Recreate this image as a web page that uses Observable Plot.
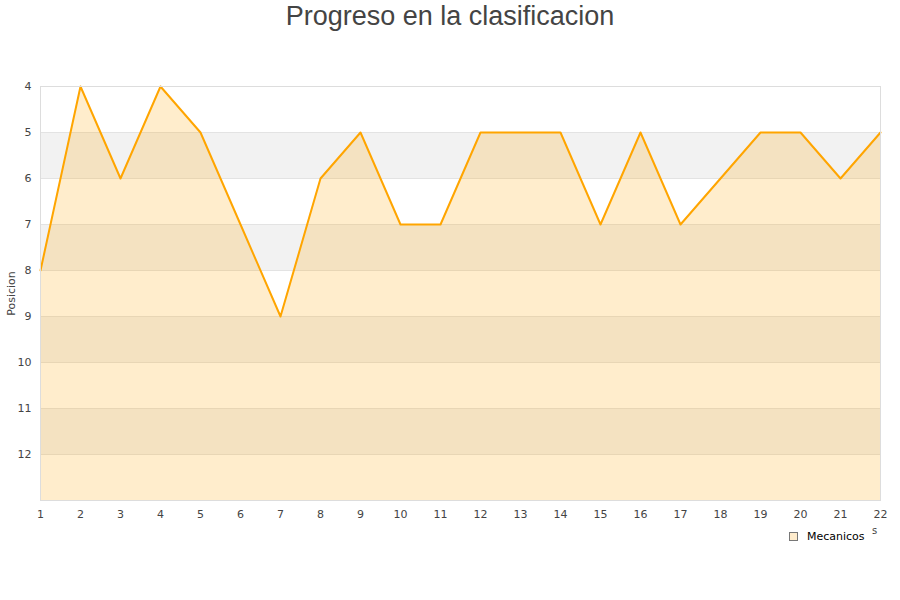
<!DOCTYPE html>
<html>
<head>
<meta charset="utf-8">
<script src="https://cdn.jsdelivr.net/npm/d3@7"></script>
<script src="https://cdn.jsdelivr.net/npm/@observablehq/plot@0.6"></script>
<style>
  html, body { margin: 0; padding: 0; background: #fff; }
  #wrap { position: relative; width: 900px; height: 600px; overflow: hidden; }
  #title { height: 40px; text-align: center; font-family: "Liberation Sans", Arial, sans-serif; font-size: 27px; color: #444; line-height: 32px; }
  #legend { position: relative; height: 30px; font-family: "DejaVu Sans", sans-serif; font-size: 11px; color: #000; }
  #legend .sw { position: absolute; left: 789px; top: 12px; width: 7px; height: 7px; background: #ffeccc; border: 1px solid #777; }
  #legend .lb { position: absolute; left: 807px; top: 10px; }
  #legend .xl { position: absolute; left: 872px; top: 5px; font-size: 10px; color: #444; }
</style>
</head>
<body>
<div id="wrap">
  <div id="title">Progreso en la clasificacion</div>
  <div id="chart"></div>
  <div id="legend"><span class="sw"></span><span class="lb">Mecanicos</span><span class="xl">s</span></div>
</div>
<script>
const jornadas = [1,2,3,4,5,6,7,8,9,10,11,12,13,14,15,16,17,18,19,20,21,22];
const posiciones = [8,4,6,4,5,7,9,6,5,7,7,5,5,5,7,5,7,6,5,5,6,5];
const yTicks = [4,5,6,7,8,9,10,11,12];
const bandStarts = [5,7,9,11];
const yMin = 4, yMax = 13;

const data = jornadas.map((j, i) => ({j, p: posiciones[i]}));
const bands = bandStarts.map(b => ({y1: b, y2: b + 1}));

const chart = Plot.plot({
  width: 900,
  height: 480,
  marginTop: 46,
  marginBottom: 20,
  marginLeft: 40,
  marginRight: 20,
  style: {fontFamily: "'DejaVu Sans', sans-serif", fontSize: "11px", color: "#444", background: "#fff"},
  x: {domain: [1, 22]},
  y: {domain: [yMin, yMax], reverse: true},
  marks: [
    Plot.rectY(bands, {x1: 1, x2: 22, y1: "y1", y2: "y2", fill: "#f2f2f2"}),
    Plot.ruleY(yTicks, {stroke: "#e3e3e3", strokeWidth: 1}),
    Plot.areaY(data, {x: "j", y1: yMax, y2: "p", fill: "#FFA500", fillOpacity: 0.2}),
    Plot.lineY(data, {x: "j", y: "p", stroke: "#FFA500", strokeWidth: 2}),
    Plot.frame({stroke: "#dddddd"}),
    Plot.axisX({ticks: jornadas, tickSize: 0, tickPadding: 10, label: null, tickFormat: d => String(d)}),
    Plot.axisY({ticks: yTicks, tickSize: 0, tickPadding: 9, label: "Posicion", labelAnchor: "center", labelArrow: "none", labelOffset: 33, tickFormat: d => String(d)})
  ]
});
document.getElementById("chart").appendChild(chart);
</script>
</body>
</html>
